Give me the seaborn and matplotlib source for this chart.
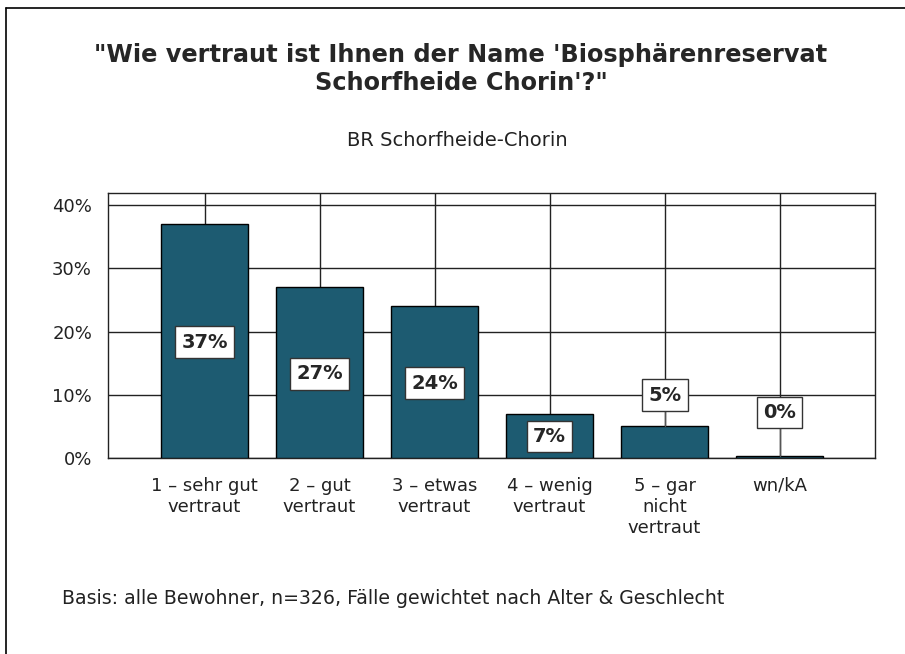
import seaborn as sns
import pandas as pd
import matplotlib
matplotlib.use('Agg')
from matplotlib import pyplot as plt
from matplotlib.lines import Line2D

categories = ['1 – sehr gut\nvertraut', '2 – gut\nvertraut', '3 – etwas\nvertraut',
              '4 – wenig\nvertraut', '5 – gar\nnicht\nvertraut', 'wn/kA']
values = [37, 27, 24, 7, 5, 0.3]
labels = ['37%', '27%', '24%', '7%', '5%', '0%']
label_y = [18.3, 13.3, 11.8, 3.4, 9.9, 7.2]
yticks = [0, 10, 20, 30, 40]

sns.set_style('white')
plt.rcParams['font.family'] = ['DejaVu Sans']

data = pd.DataFrame({'cat': categories, 'val': values})

fig = plt.figure(figsize=(9.05, 6.54), dpi=100)
ax = fig.add_axes([108 / 905, 1 - 458 / 654, 767 / 905, 265 / 654])

sns.barplot(data=data, x='cat', y='val', color='#1d5b71', saturation=1,
            width=0.75, edgecolor='black', linewidth=1, ax=ax, zorder=3)

ax.set_xlim(-0.84, 5.83)
ax.set_ylim(0, 41.9)
ax.set_yticks(yticks)
ax.set_yticklabels(['%d%%' % t for t in yticks])
ax.set_xlabel('')
ax.set_ylabel('')
ax.grid(True, color='#222222', linewidth=1, zorder=0)
ax.set_axisbelow(True)
for s in ax.spines.values():
    s.set_color('#222222')
    s.set_linewidth(1)
ax.tick_params(axis='both', direction='out', length=10.5, width=1, color='#222222',
               labelsize=13, labelcolor='#222222', pad=3)
ax.tick_params(axis='y', pad=1)
for t in ax.get_xticklabels():
    t.set_linespacing(1.22)

for i, (v, lab, ly) in enumerate(zip(values, labels, label_y)):
    if ly > v:
        ax.plot([i, i], [v, ly], color='#555555', linewidth=1, zorder=4)
    ax.text(i, ly, lab, ha='center', va='center', fontsize=14, fontweight='bold',
            zorder=5, bbox=dict(boxstyle='square,pad=0.33', facecolor='white',
                                edgecolor='#333333', linewidth=1))

fig.text(461 / 905, 1 - 69 / 654,
         '"Wie vertraut ist Ihnen der Name \'Biosphärenreservat\nSchorfheide Chorin\'?"',
         ha='center', va='center', fontsize=17.3, fontweight='bold', linespacing=1.18)
fig.text(457 / 905, 1 - 140 / 654, 'BR Schorfheide-Chorin', ha='center', va='center',
         fontsize=14, color='#222222')
fig.text(62 / 905, 1 - 598 / 654,
         'Basis: alle Bewohner, n=326, Fälle gewichtet nach Alter & Geschlecht',
         ha='left', va='center', fontsize=13.6, color='#222222')

fig.add_artist(Line2D([6 / 905, 6 / 905], [0, 1 - 8 / 654], transform=fig.transFigure,
                      color='black', linewidth=1.2))
fig.add_artist(Line2D([6 / 905, 1], [1 - 8 / 654, 1 - 8 / 654], transform=fig.transFigure,
                      color='black', linewidth=1.2))

fig.savefig('out.png', dpi=100, facecolor='white')
